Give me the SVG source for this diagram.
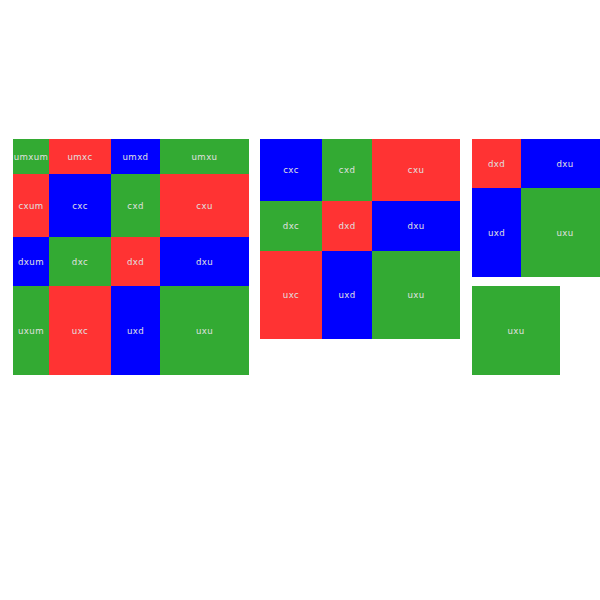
<svg xmlns="http://www.w3.org/2000/svg" width="600" height="600" viewBox="0 0 600 600">
<style>
.r{fill:#ff3333}.g{fill:#33aa33}.b{fill:#0000ff}
text{font-family:"DejaVu Sans",sans-serif;font-size:8.6px;fill:#e0e0e0;text-anchor:middle;dominant-baseline:central;letter-spacing:0.4px}
</style>
<rect width="600" height="600" fill="#fff"/>
<g id="grid1">
<g id="g1-umxum"><rect class="g" x="13" y="139" width="36" height="35"/><text x="31" y="157">umxum</text></g>
<g id="g1-umxc"><rect class="r" x="49" y="139" width="62" height="35"/><text x="80" y="157">umxc</text></g>
<g id="g1-umxd"><rect class="b" x="111" y="139" width="49" height="35"/><text x="135.5" y="157">umxd</text></g>
<g id="g1-umxu"><rect class="g" x="160" y="139" width="89" height="35"/><text x="204.5" y="157">umxu</text></g>
<g id="g1-cxum"><rect class="r" x="13" y="174" width="36" height="63"/><text x="31" y="206">cxum</text></g>
<g id="g1-cxc"><rect class="b" x="49" y="174" width="62" height="63"/><text x="80" y="206">cxc</text></g>
<g id="g1-cxd"><rect class="g" x="111" y="174" width="49" height="63"/><text x="135.5" y="206">cxd</text></g>
<g id="g1-cxu"><rect class="r" x="160" y="174" width="89" height="63"/><text x="204.5" y="206">cxu</text></g>
<g id="g1-dxum"><rect class="b" x="13" y="237" width="36" height="49"/><text x="31" y="262">dxum</text></g>
<g id="g1-dxc"><rect class="g" x="49" y="237" width="62" height="49"/><text x="80" y="262">dxc</text></g>
<g id="g1-dxd"><rect class="r" x="111" y="237" width="49" height="49"/><text x="135.5" y="262">dxd</text></g>
<g id="g1-dxu"><rect class="b" x="160" y="237" width="89" height="49"/><text x="204.5" y="262">dxu</text></g>
<g id="g1-uxum"><rect class="g" x="13" y="286" width="36" height="89"/><text x="31" y="331">uxum</text></g>
<g id="g1-uxc"><rect class="r" x="49" y="286" width="62" height="89"/><text x="80" y="331">uxc</text></g>
<g id="g1-uxd"><rect class="b" x="111" y="286" width="49" height="89"/><text x="135.5" y="331">uxd</text></g>
<g id="g1-uxu"><rect class="g" x="160" y="286" width="89" height="89"/><text x="204.5" y="331">uxu</text></g>
</g>
<g id="grid2">
<g id="g2-cxc"><rect class="b" x="260" y="139" width="62" height="62"/><text x="291" y="170">cxc</text></g>
<g id="g2-cxd"><rect class="g" x="322" y="139" width="50" height="62"/><text x="347" y="170">cxd</text></g>
<g id="g2-cxu"><rect class="r" x="372" y="139" width="88" height="62"/><text x="416" y="170">cxu</text></g>
<g id="g2-dxc"><rect class="g" x="260" y="201" width="62" height="50"/><text x="291" y="226">dxc</text></g>
<g id="g2-dxd"><rect class="r" x="322" y="201" width="50" height="50"/><text x="347" y="226">dxd</text></g>
<g id="g2-dxu"><rect class="b" x="372" y="201" width="88" height="50"/><text x="416" y="226">dxu</text></g>
<g id="g2-uxc"><rect class="r" x="260" y="251" width="62" height="88"/><text x="291" y="295">uxc</text></g>
<g id="g2-uxd"><rect class="b" x="322" y="251" width="50" height="88"/><text x="347" y="295">uxd</text></g>
<g id="g2-uxu"><rect class="g" x="372" y="251" width="88" height="88"/><text x="416" y="295">uxu</text></g>
</g>
<g id="grid3">
<g id="g3-dxd"><rect class="r" x="472" y="139" width="49" height="49"/><text x="496.5" y="163.5">dxd</text></g>
<g id="g3-dxu"><rect class="b" x="521" y="139" width="79" height="49"/><text x="565" y="163.5">dxu</text></g>
<g id="g3-uxd"><rect class="b" x="472" y="188" width="49" height="89"/><text x="496.5" y="232.5">uxd</text></g>
<g id="g3-uxu"><rect class="g" x="521" y="188" width="79" height="89"/><text x="565" y="232.5">uxu</text></g>
</g>
<g id="grid4">
<g id="g4-uxu"><rect class="g" x="472" y="286" width="88" height="89"/><text x="516" y="330.5">uxu</text></g>
</g>
</svg>
